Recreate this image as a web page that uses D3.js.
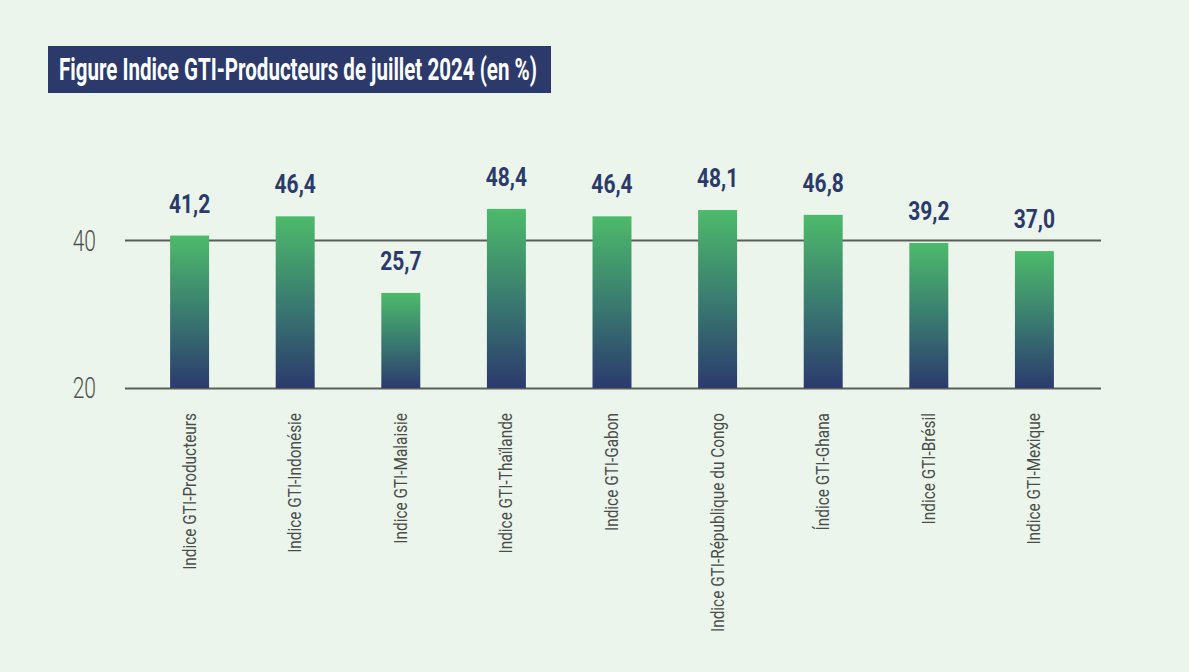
<!DOCTYPE html>
<html>
<head>
<meta charset="utf-8">
<script src="https://cdn.jsdelivr.net/npm/d3@7"></script>
<style>
  html, body { margin: 0; padding: 0; background: #ebf5ec; }
  svg { display: block; }
</style>
</head>
<body>
<svg id="chart" width="1189" height="672"></svg>
<script>
const titleText = "Figure Indice GTI-Producteurs de juillet 2024 (en %)";
const categories = [
  "Indice GTI-Producteurs",
  "Indice GTI-Indonésie",
  "Indice GTI-Malaisie",
  "Indice GTI-Thaïlande",
  "Indice GTI-Gabon",
  "Indice GTI-République du Congo",
  "Índice GTI-Ghana",
  "Indice GTI-Brésil",
  "Indice GTI-Mexique"
];
const values = [41.2, 46.4, 25.7, 48.4, 46.4, 48.1, 46.8, 39.2, 37.0];
const valueLabels = ["41,2", "46,4", "25,7", "48,4", "46,4", "48,1", "46,8", "39,2", "37,0"];
const yTickValues = [0, 40];
const yTickLabels = ["20", "40"];

const svg = d3.select("#chart");
const W = 1189, H = 672;
svg.append("rect").attr("width", W).attr("height", H).attr("fill", "#ebf5ec");

// Title
svg.append("rect").attr("x", 48).attr("y", 46).attr("width", 503).attr("height", 47).attr("fill", "#2b3a6b");
svg.append("text")
  .attr("x", 59).attr("y", 79.5)
  .attr("fill", "#ffffff")
  .attr("font-family", "Roboto, sans-serif")
  .attr("font-weight", 700)
  .attr("font-size", 32)
  .attr("textLength", 478)
  .attr("lengthAdjust", "spacingAndGlyphs")
  .text(titleText);

const x = d3.scaleBand().domain(categories).range([124, 1100]).paddingInner(0.631).paddingOuter(0.4366);
const y = d3.scaleLinear().domain([0, 40]).range([388, 240]);

const defs = svg.append("defs");
const grad = defs.append("linearGradient").attr("id", "barGrad")
  .attr("x1", 0).attr("y1", 0).attr("x2", 0).attr("y2", 1);
grad.append("stop").attr("offset", "0%").attr("stop-color", "#4dba6b");
grad.append("stop").attr("offset", "50%").attr("stop-color", "#3a7c70");
grad.append("stop").attr("offset", "100%").attr("stop-color", "#2c3a6e");

// y axis
const yAxis = d3.axisLeft(y)
  .tickValues(yTickValues)
  .tickFormat((d, i) => yTickLabels[i])
  .tickSize(-(1101 - 125))
  .tickPadding(0);
const gy = svg.append("g").attr("transform", "translate(125,0)").call(yAxis);
gy.select(".domain").remove();
gy.selectAll(".tick line").attr("stroke", "#5a5e5a").attr("stroke-width", 2);
gy.selectAll(".tick text")
  .attr("x", 0).attr("dy", null)
  .attr("fill", "#4e524e")
  .attr("font-family", "Roboto, sans-serif")
  .attr("font-weight", 300)
  .attr("font-size", 30)
  .attr("text-anchor", "end")
  .attr("transform", function(d) { return "translate(-29," + (d === 0 ? 9 : 10) + ") scale(0.7,1)"; })
  .attr("y", 0);

// bars
svg.append("g").selectAll("rect").data(values).join("rect")
  .attr("x", (d, i) => x(categories[i]))
  .attr("width", x.bandwidth())
  .attr("y", d => y(d))
  .attr("height", d => y(0) - y(d))
  .attr("fill", "url(#barGrad)");

// value labels
svg.append("g").selectAll("text").data(values).join("text")
  .attr("transform", (d, i) => "translate(" + (x(categories[i]) + x.bandwidth() / 2) + "," + (y(d) - 23) + ") scale(0.84,1)")
  .attr("text-anchor", "middle")
  .attr("fill", "#2b3a6b")
  .attr("font-family", "Roboto, sans-serif")
  .attr("font-weight", 700)
  .attr("font-size", 25)
  .text((d, i) => valueLabels[i]);

// category labels
svg.append("g").selectAll("text").data(categories).join("text")
  .attr("transform", d => "translate(" + (x(d) + x.bandwidth() / 2 + 6) + ",413) rotate(-90) scale(0.88,1)")
  .attr("text-anchor", "end")
  .attr("fill", "#4a4d4a")
  .attr("font-family", "Roboto, sans-serif")
  .attr("font-weight", 400)
  .attr("font-size", 17.5)
  .text(d => d);
</script>
</body>
</html>
